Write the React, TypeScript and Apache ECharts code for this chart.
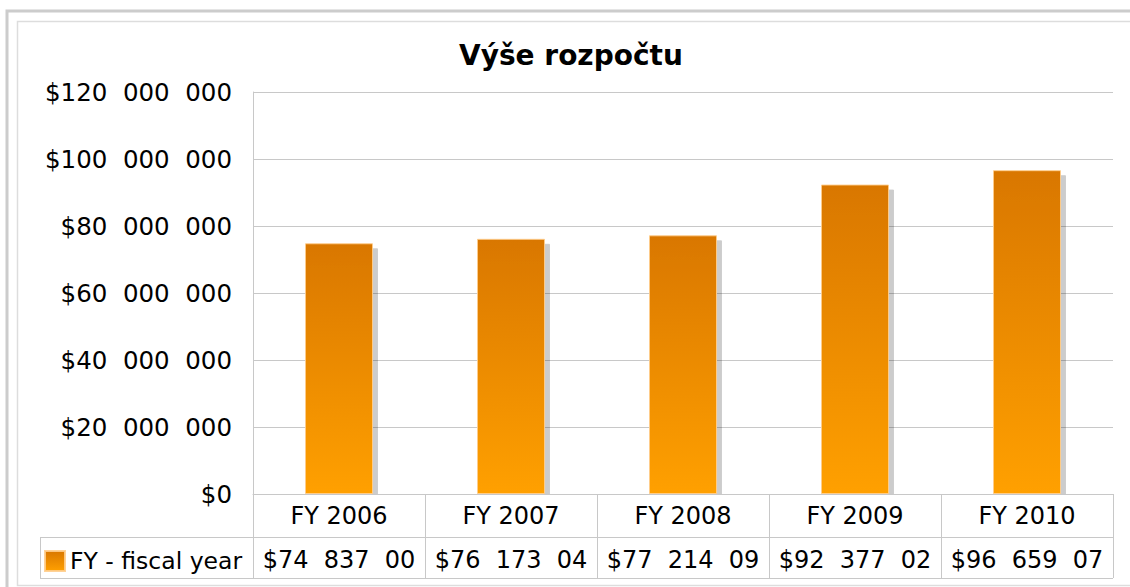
import React, { useEffect, useRef } from "react";
import * as echarts from "echarts";

const categories = ["FY 2006", "FY 2007", "FY 2008", "FY 2009", "FY 2010"];
const budget = [74837000, 76173040, 77214090, 92377020, 96659070];
const seriesName = "FY - fiscal year";
const chartTitle = "Výše rozpočtu";
const yMin = 0;
const yMax = 120000000;
const yStep = 20000000;

const FONT = "DejaVu Sans";
const W = 1130;
const H = 587;
const G_LEFT = 253;
const G_RIGHT = 1113;
const G_TOP = 92;
const G_BOTTOM = 494;
const ROW1 = 537;
const ROW2 = 578;
const LEG_LEFT = 40;

function fmtMoney(v: number): string {
  if (v === 0) return "$0";
  const s = Math.round(v).toString();
  const groups: string[] = [];
  for (let i = s.length; i > 0; i -= 3) groups.unshift(s.slice(Math.max(0, i - 3), i));
  return "$" + groups.join("  ");
}

export default function App() {
  const ref = useRef<HTMLDivElement>(null);
  useEffect(() => {
    if (!ref.current) return;
    const chart = echarts.init(ref.current, undefined, { renderer: "svg" });
    const grid = "#c8c8c8";
    const barFill = new echarts.graphic.LinearGradient(0, 0, 0, 1, [
      { offset: 0, color: "#d97700" },
      { offset: 1, color: "#ffa000" },
    ]);
    chart.setOption({
      animation: false,
      backgroundColor: "#ffffff",
      textStyle: { fontFamily: FONT },
      title: {
        text: chartTitle,
        left: 459,
        top: 41,
        padding: 0,
        textStyle: { fontFamily: FONT, fontSize: 28, fontWeight: "bold", color: "#000" },
      },
      legend: {
        show: true,
        left: LEG_LEFT + 4,
        top: 549,
        padding: 0,
        itemWidth: 20,
        itemHeight: 20,
        icon: "rect",
        textStyle: { fontFamily: FONT, fontSize: 23.5, color: "#000", padding: [0, 0, 0, 0] },
        data: [seriesName],
      },
      grid: { left: G_LEFT, right: W - G_RIGHT, top: G_TOP, bottom: H - G_BOTTOM, containLabel: false },
      xAxis: [
        {
          type: "category",
          data: categories,
          z: 10,
          axisLine: { show: true, lineStyle: { color: grid, width: 1 } },
          axisTick: { show: true, length: ROW2 - G_BOTTOM, lineStyle: { color: grid, width: 1 } },
          axisLabel: { fontFamily: FONT, fontSize: 24, color: "#000", margin: 10, interval: 0 },
          splitLine: { show: false },
        },
        {
          type: "category",
          data: categories,
          position: "bottom",
          offset: ROW1 - G_BOTTOM,
          z: 10,
          axisLine: { show: false },
          axisTick: { show: false },
          axisLabel: {
            fontFamily: FONT,
            fontSize: 24,
            color: "#000",
            margin: 11,
            interval: 0,
            hideOverlap: false,
            formatter: (_v: string, idx: number) => fmtMoney(budget[idx]).slice(0, -1),
          },
        },
      ],
      yAxis: {
        type: "value",
        min: yMin,
        max: yMax,
        interval: yStep,
        axisLine: { show: true, lineStyle: { color: grid, width: 1 } },
        axisTick: { show: false },
        splitLine: { show: true, lineStyle: { color: grid, width: 1 } },
        axisLabel: {
          fontFamily: FONT,
          fontSize: 24.5,
          color: "#000",
          margin: 21,
          formatter: (v: number) => fmtMoney(v),
        },
      },
      series: [
        {
          name: seriesName,
          type: "bar",
          data: budget,
          barWidth: 68,
          z: 2,
          itemStyle: {
            color: barFill,
            borderColor: "rgba(255,205,140,0.9)",
            borderWidth: 1,
            shadowColor: "rgba(0,0,0,0.2)",
            shadowBlur: 0,
            shadowOffsetX: 5,
            shadowOffsetY: 5,
          },
        },
      ],
      graphic: [
        {
          type: "rect",
          z: 5,
          silent: true,
          shape: { x: G_LEFT + 1, y: G_BOTTOM + 1, width: G_RIGHT - G_LEFT - 2, height: 6 },
          style: { fill: "#ffffff" },
        },
        {
          type: "rect",
          z: 20,
          silent: true,
          shape: { x: 7, y: 11, width: W, height: H },
          style: { fill: "none", stroke: "#cccccc", lineWidth: 3 },
        },
        {
          type: "rect",
          z: 20,
          silent: true,
          shape: { x: 17.5, y: 21.5, width: W, height: 564 },
          style: { fill: "none", stroke: "#dddddd", lineWidth: 1.5 },
        },
        {
          type: "line",
          z: 20,
          silent: true,
          shape: { x1: LEG_LEFT, y1: ROW1 + 0.5, x2: G_RIGHT, y2: ROW1 + 0.5 },
          style: { stroke: grid, lineWidth: 1 },
        },
        {
          type: "line",
          z: 20,
          silent: true,
          shape: { x1: LEG_LEFT, y1: ROW2 + 0.5, x2: G_RIGHT, y2: ROW2 + 0.5 },
          style: { stroke: grid, lineWidth: 1 },
        },
        {
          type: "line",
          z: 20,
          silent: true,
          shape: { x1: LEG_LEFT + 0.5, y1: ROW1, x2: LEG_LEFT + 0.5, y2: ROW2 + 1 },
          style: { stroke: grid, lineWidth: 1 },
        },
      ],
    });
    return () => chart.dispose();
  }, []);
  return (
    <div
      ref={ref}
      style={{ position: "absolute", left: 0, top: 0, width: W, height: H, background: "#fff" }}
    />
  );
}
